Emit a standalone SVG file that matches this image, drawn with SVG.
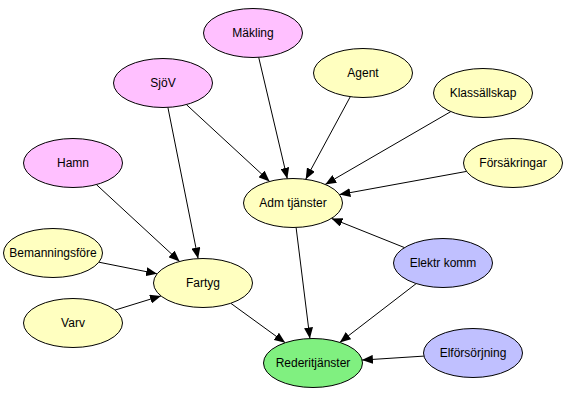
<svg xmlns="http://www.w3.org/2000/svg" width="569" height="401" viewBox="0 0 569 401">
<style>
.n ellipse{stroke:#000;stroke-width:1}
.pink{fill:#FFC0FF}
.yel{fill:#FFFFC0}
.blue{fill:#C0C0FF}
.green{fill:#80F080}
text{font-family:"Liberation Sans",Arial,sans-serif;font-size:12px;text-anchor:middle;fill:#000}
#edges line{stroke:#000;stroke-width:1;marker-end:url(#ah)}
</style>
<defs>
<marker id="ah" markerUnits="userSpaceOnUse" markerWidth="12" markerHeight="9" refX="11" refY="4.5" orient="auto">
<path d="M0,0 L11,4.5 L0,9 z" fill="#000"/>
</marker>
</defs>
<rect width="569" height="401" fill="#fff"/>
<g id="edges">
<line x1="258.7" y1="57.3" x2="287.3" y2="178.7"/>
<line x1="350.3" y1="96.7" x2="305.7" y2="179.3"/>
<line x1="186.4" y1="104.6" x2="269.6" y2="181.4"/>
<line x1="167.9" y1="107.4" x2="198.1" y2="258.6"/>
<line x1="450.8" y1="111.6" x2="325.2" y2="184.4"/>
<line x1="466.6" y1="171.4" x2="339.4" y2="194.6"/>
<line x1="404.5" y1="247.6" x2="331.5" y2="218.4"/>
<line x1="96.4" y1="184.6" x2="179.6" y2="261.4"/>
<line x1="98.9" y1="262.2" x2="157.1" y2="273.8"/>
<line x1="115" y1="310.1" x2="161" y2="295.9"/>
<line x1="230.8" y1="303.3" x2="285.2" y2="342.8"/>
<line x1="296.1" y1="227.5" x2="309.9" y2="338.5"/>
<line x1="416.2" y1="283.6" x2="339.8" y2="342.4"/>
<line x1="423.9" y1="356.1" x2="361.9" y2="360.1"/>
</g>
<g id="makling" class="n"><ellipse class="pink" cx="253" cy="33" rx="49.5" ry="24.5"/><text x="253" y="37">Mäkling</text></g>
<g id="agent" class="n"><ellipse class="yel" cx="363" cy="73" rx="49.5" ry="24.5"/><text x="363" y="77">Agent</text></g>
<g id="sjov" class="n"><ellipse class="pink" cx="163" cy="83" rx="49.5" ry="24.5"/><text x="163" y="87">SjöV</text></g>
<g id="klass" class="n"><ellipse class="yel" cx="483" cy="93" rx="49.5" ry="24.5"/><text x="483" y="97">Klassällskap</text></g>
<g id="forsak" class="n"><ellipse class="yel" cx="513" cy="163" rx="49.5" ry="24.5"/><text x="513" y="167">Försäkringar</text></g>
<g id="hamn" class="n"><ellipse class="pink" cx="73" cy="163" rx="49.5" ry="24.5"/><text x="73" y="167">Hamn</text></g>
<g id="adm" class="n"><ellipse class="yel" cx="293" cy="203" rx="49.5" ry="24.5"/><text x="293" y="207">Adm tjänster</text></g>
<g id="bemanning" class="n"><ellipse class="yel" cx="53" cy="253" rx="49.5" ry="24.5"/><text x="53" y="257">Bemanningsföre</text></g>
<g id="elektr" class="n"><ellipse class="blue" cx="443" cy="263" rx="49.5" ry="24.5"/><text x="443" y="267">Elektr komm</text></g>
<g id="fartyg" class="n"><ellipse class="yel" cx="203" cy="283" rx="49.5" ry="24.5"/><text x="203" y="287">Fartyg</text></g>
<g id="varv" class="n"><ellipse class="yel" cx="73" cy="323" rx="49.5" ry="24.5"/><text x="73" y="327">Varv</text></g>
<g id="rederi" class="n"><ellipse class="green" cx="313" cy="363" rx="49.5" ry="24.5"/><text x="313" y="367">Rederitjänster</text></g>
<g id="elforsorj" class="n"><ellipse class="blue" cx="473" cy="353" rx="49.5" ry="24.5"/><text x="473" y="357">Elförsörjning</text></g>
</svg>
